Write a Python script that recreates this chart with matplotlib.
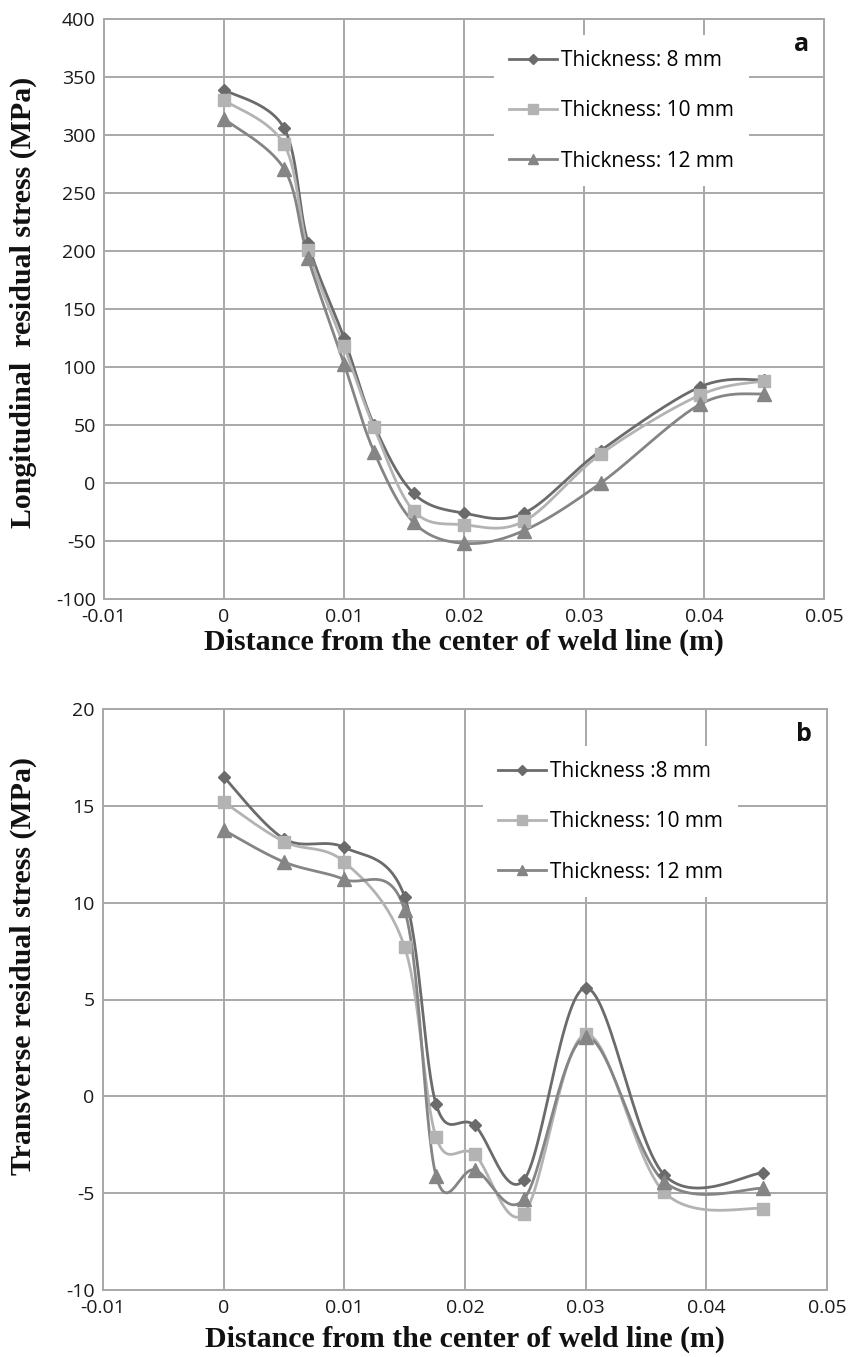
import numpy as np
import matplotlib
matplotlib.use("Agg")
import matplotlib.pyplot as plt
from matplotlib.lines import Line2D

plt.rcParams["axes.unicode_minus"] = False

# ---- Longitudinal residual stress (panel a) ----
x_long_8 = [0.0, 0.005, 0.007, 0.010, 0.0125, 0.0158, 0.020, 0.025, 0.0314, 0.0397, 0.045]
y_long_8 = [339, 306, 207, 125, 50, -9, -26, -26, 28, 83, 89]
x_long_10 = [0.0, 0.005, 0.007, 0.010, 0.0125, 0.0158, 0.020, 0.025, 0.0314, 0.0397, 0.045]
y_long_10 = [330, 292, 201, 118, 48, -24, -36, -33, 25, 76, 88]
x_long_12 = [0.0, 0.005, 0.007, 0.010, 0.0125, 0.0158, 0.020, 0.025, 0.0314, 0.0397, 0.045]
y_long_12 = [314, 271, 194, 103, 27, -34, -52, -41, 0, 68, 77]

# ---- Transverse residual stress (panel b) ----
x_trans = [0.0, 0.005, 0.010, 0.015, 0.0176, 0.0208, 0.0249, 0.030, 0.0365, 0.0447]
y_trans_8 = [16.5, 13.3, 12.85, 10.3, -0.4, -1.5, -4.3, 5.6, -4.05, -3.95]
y_trans_10 = [15.2, 13.15, 12.1, 7.7, -2.1, -3.0, -6.05, 3.2, -4.95, -5.8]
y_trans_12 = [13.75, 12.1, 11.2, 9.6, -4.1, -3.8, -5.3, 3.05, -4.4, -4.75]

x_ticks = [-0.01, 0, 0.01, 0.02, 0.03, 0.04, 0.05]
x_tick_labels = ["-0.01", "0", "0.01", "0.02", "0.03", "0.04", "0.05"]
y_ticks_a = [-100, -50, 0, 50, 100, 150, 200, 250, 300, 350, 400]
y_ticks_b = [-10, -5, 0, 5, 10, 15, 20]

labels_a = ["Thickness: 8 mm", "Thickness: 10 mm", "Thickness: 12 mm"]
labels_b = ["Thickness :8 mm", "Thickness: 10 mm", "Thickness: 12 mm"]

colors = ["#6b6b6b", "#b3b3b3", "#858585"]
markers = ["D", "s", "^"]
msizes = [6.5, 9, 9.5]

GRID = "#a8a8a8"
TICK_FONT = "Open Sans"
LABEL_FONT = "Liberation Serif"


def smooth_path(ax, xs, ys, n=30):
    """Bezier-smoothed curve through the points, built in display space."""
    pts = ax.transData.transform(np.column_stack([xs, ys]))
    m = len(pts)
    out = []
    for i in range(m - 1):
        p0 = pts[max(i - 1, 0)]
        p1 = pts[i]
        p2 = pts[i + 1]
        p3 = pts[min(i + 2, m - 1)]
        c1 = p1 + (p2 - p0) / 6.0
        c2 = p2 - (p3 - p1) / 6.0
        t = np.linspace(0, 1, n)[:, None]
        seg = ((1 - t) ** 3) * p1 + 3 * ((1 - t) ** 2) * t * c1 + 3 * (1 - t) * t ** 2 * c2 + t ** 3 * p2
        out.append(seg if i == 0 else seg[1:])
    curve = np.vstack(out)
    return ax.transData.inverted().transform(curve)


def setup_axes(ax, yticks, ylabel, xlabel_y, ylabel_x, ylabel_y):
    ax.set_xlim(-0.01, 0.05)
    ax.set_ylim(yticks[0], yticks[-1])
    ax.set_xticks(x_ticks)
    ax.set_xticklabels(x_tick_labels)
    ax.set_yticks(yticks)
    ax.set_yticklabels([str(v) for v in yticks])
    ax.grid(True, color=GRID, linewidth=1.4)
    ax.set_axisbelow(True)
    for s in ax.spines.values():
        s.set_color(GRID)
        s.set_linewidth(1.4)
    ax.tick_params(length=0, labelsize=14, colors="#1a1a1a")
    ax.tick_params(axis="x", pad=6.5)
    ax.tick_params(axis="y", pad=6)
    for lab in ax.get_xticklabels() + ax.get_yticklabels():
        lab.set_fontfamily(TICK_FONT)
    ax.set_xlabel("Distance from the center of weld line (m)", fontfamily=LABEL_FONT,
                  fontweight="bold", fontsize=21.5, color="#111111", va="top")
    ax.xaxis.set_label_coords(0.5, xlabel_y)
    ax.set_ylabel(ylabel, fontfamily=LABEL_FONT, fontweight="bold", fontsize=21.5,
                  color="#111111")
    ax.yaxis.set_label_coords(ylabel_x, ylabel_y)


def draw_series(ax, series, labels):
    handles = []
    for (xs, ys), c, mk, ms, lab in zip(series, colors, markers, msizes, labels):
        curve = smooth_path(ax, xs, ys)
        ax.plot(curve[:, 0], curve[:, 1], color=c, linewidth=2.0, zorder=3)
        ax.plot(xs, ys, linestyle="none", marker=mk, markersize=ms, color=c,
                markeredgecolor=c, zorder=4)
        handles.append(Line2D([], [], color=c, linewidth=2.0, marker=mk,
                              markersize=ms * 0.8, markeredgecolor=c))
    return handles


fig = plt.figure(figsize=(8.62, 13.57), dpi=100)
ax_a = fig.add_axes([104 / 862, 1 - 599 / 1357, 720 / 862, 580 / 1357])
ax_b = fig.add_axes([103 / 862, 1 - 1290 / 1357, 724 / 862, 581 / 1357])

setup_axes(ax_a, y_ticks_a, "Longitudinal  residual stress (MPa)",
           xlabel_y=-0.052, ylabel_x=-0.093, ylabel_y=0.512)
setup_axes(ax_b, y_ticks_b, "Transverse residual stress (MPa)",
           xlabel_y=-0.061, ylabel_x=-0.091, ylabel_y=0.558)

h_a = draw_series(ax_a, [(x_long_8, y_long_8), (x_long_10, y_long_10),
                         (x_long_12, y_long_12)], labels_a)
h_b = draw_series(ax_b, [(x_trans, y_trans_8), (x_trans, y_trans_10),
                         (x_trans, y_trans_12)], labels_b)

legend_kw = dict(frameon=True, facecolor="white", edgecolor="none", framealpha=1.0,
                 fancybox=False, handlelength=2.3, handletextpad=0.22,
                 labelspacing=1.41, borderpad=0.7,
                 prop={"family": TICK_FONT, "size": 15})
leg_a = ax_a.legend(h_a, labels_a, loc="upper left",
                    bbox_to_anchor=(380 / 720, 1 - 6 / 580), **legend_kw)
leg_b = ax_b.legend(h_b, labels_b, loc="upper left",
                    bbox_to_anchor=(370 / 724, 1 - 27 / 581), **legend_kw)
for leg in (leg_a, leg_b):
    leg.set_zorder(5)

ax_a.text(0.979, 0.977, "a", transform=ax_a.transAxes, ha="right", va="top",
          fontsize=18, fontweight="bold", fontfamily="Open Sans", color="#111111")
ax_b.text(0.979, 0.977, "b", transform=ax_b.transAxes, ha="right", va="top",
          fontsize=18, fontweight="bold", fontfamily="Open Sans", color="#111111")

fig.savefig("out.png", dpi=100, facecolor="white")
